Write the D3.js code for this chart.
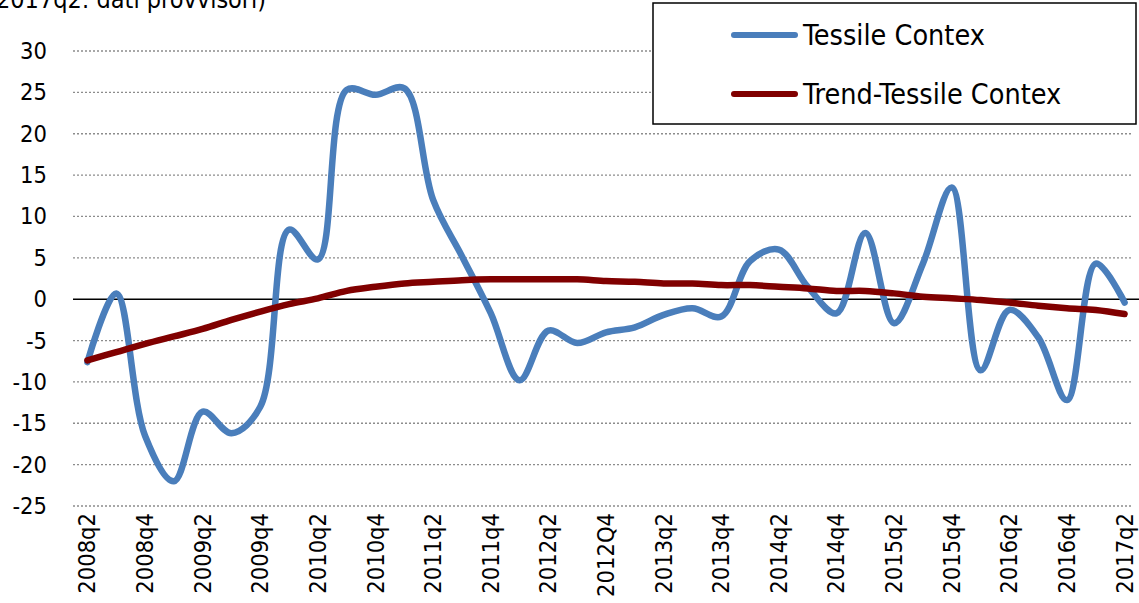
<!DOCTYPE html>
<html>
<head>
<meta charset="utf-8">
<script src="https://cdn.jsdelivr.net/npm/d3@7"></script>
<style>
  body { margin: 0; background: #fff; }
  text { font-family: "DejaVu Sans Condensed", "DejaVu Sans", sans-serif; font-stretch: condensed; fill: #000; }
</style>
</head>
<body>
<script>
// quarters 2008q2 .. 2017q2
const quarters = [
  "2008q2","2008q3","2008q4","2009q1","2009q2","2009q3","2009q4",
  "2010q1","2010q2","2010q3","2010q4","2011q1","2011q2","2011q3","2011q4",
  "2012q1","2012q2","2012q3","2012Q4","2013q1","2013q2","2013q3","2013q4",
  "2014q1","2014q2","2014q3","2014q4","2015q1","2015q2","2015q3","2015q4",
  "2016q1","2016q2","2016q3","2016q4","2017q1","2017q2"
];
const tessile = [
  -7.6, 0.7, -16.5, -22, -13.6, -16.2, -13,
  8.4, 4.8, 25.3, 24.7, 25.5, 12, 5.2, -1.7,
  -9.8, -3.8, -5.3, -4, -3.4, -1.9, -1.1, -2.1,
  4.6, 6, 1.5, -1.7, 8, -2.9, 4.3, 13.5,
  -8.6, -1.3, -4.6, -12.2, 4.3, -0.4
];
const trend = [
  -7.4, -6.4, -5.4, -4.5, -3.6, -2.5, -1.5,
  -0.6, 0.1, 1.0, 1.5, 1.9, 2.1, 2.3, 2.4,
  2.4, 2.4, 2.4, 2.2, 2.1, 1.9, 1.9, 1.7,
  1.7, 1.5, 1.3, 1.0, 1.0, 0.7, 0.3, 0.1,
  -0.1, -0.4, -0.8, -1.1, -1.3, -1.8
];
const yTicks = [30, 25, 20, 15, 10, 5, 0, -5, -10, -15, -20, -25];
const seriesNames = ["Tessile Contex", "Trend-Tessile Contex"];
const colors = ["#4a7ebb", "#800000"];

const WIDTH = 1139, HEIGHT = 603;
const svg = d3.select("body").append("svg").attr("width", WIDTH).attr("height", HEIGHT);

const x = d3.scalePoint().domain(quarters).range([73, 1139]).padding(0.5);
const y = d3.scaleLinear().domain([-25, 30]).range([506, 51]);

// subtitle, cut at the top as in the original
svg.append("text").attr("x", -4).attr("y", 8).style("font-size", "25px")
  .text("2017q2:  dati provvisori)");

// gridlines
svg.selectAll("line.grid").data(yTicks.filter(d => d !== 0)).enter().append("line")
  .attr("class", "grid")
  .attr("x1", 73).attr("x2", 1133)
  .attr("y1", d => y(d)).attr("y2", d => y(d))
  .attr("stroke", "#8c8c8c").attr("stroke-width", 1.3).attr("stroke-dasharray", "2,2");

// y labels
svg.selectAll("text.ylab").data(yTicks).enter().append("text")
  .attr("class", "ylab")
  .attr("x", 47).attr("y", d => y(d) + 8)
  .attr("text-anchor", "end").style("font-size", "23.5px")
  .text(d => d);

// x labels every 2 quarters
svg.selectAll("text.xlab").data(quarters.filter((d, i) => i % 2 === 0)).enter().append("text")
  .attr("class", "xlab")
  .attr("transform", d => `translate(${x(d) + 8},513) rotate(-90)`)
  .attr("text-anchor", "end").style("font-size", "23.5px")
  .text(d => d);

// zero line
svg.append("line").attr("x1", 73).attr("x2", 1139).attr("y1", y(0)).attr("y2", y(0))
  .attr("stroke", "#000").attr("stroke-width", 1.5);

const line = d3.line()
  .x((d, i) => x(quarters[i]))
  .y(d => y(d))
  .curve(d3.curveCatmullRom.alpha(0.5));

svg.append("path").datum(tessile).attr("d", line)
  .attr("fill", "none").attr("stroke", colors[0]).attr("stroke-width", 6.5)
  .attr("stroke-linecap", "round").attr("stroke-linejoin", "round");
svg.append("path").datum(trend).attr("d", line)
  .attr("fill", "none").attr("stroke", colors[1]).attr("stroke-width", 6.5)
  .attr("stroke-linecap", "round").attr("stroke-linejoin", "round");

// legend
const lg = svg.append("g");
lg.append("rect").attr("x", 653).attr("y", 3).attr("width", 483).attr("height", 121)
  .attr("fill", "#fff").attr("stroke", "#000").attr("stroke-width", 1.5);
seriesNames.forEach((name, i) => {
  const ly = 35 + i * 59;
  lg.append("line").attr("x1", 734).attr("x2", 795).attr("y1", ly).attr("y2", ly)
    .attr("stroke", colors[i]).attr("stroke-width", 6).attr("stroke-linecap", "round");
  lg.append("text").attr("x", 803).attr("y", ly + 10).style("font-size", "28.5px").text(name);
});
</script>
</body>
</html>
